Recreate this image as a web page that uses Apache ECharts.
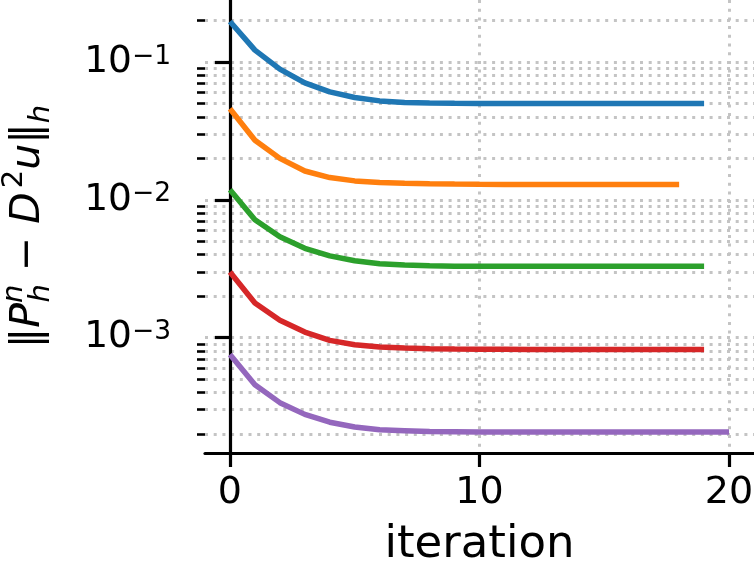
<!DOCTYPE html>
<html>
<head>
<meta charset="utf-8">
<script src="https://cdn.jsdelivr.net/npm/echarts@6/dist/echarts.min.js"></script>
<style>
  html, body { margin: 0; padding: 0; background: #fff; }
  #chart { width: 754px; height: 574px; }
</style>
</head>
<body>
<div id="chart"></div>
<script>
// data (error norm per iteration, log scale)
const iterations = [0, 1, 2, 3, 4, 5, 6, 7, 8, 9, 10, 11, 12, 13, 14, 15, 16, 17, 18, 19, 20];
const err_blue = [0.197, 0.1222, 0.0889, 0.0707, 0.0608, 0.0554, 0.0523, 0.0509, 0.0504, 0.0502,
  0.0501, 0.0501, 0.0501, 0.0501, 0.0501, 0.0501, 0.0501, 0.0501, 0.0501, 0.0501];
const err_orange = [0.0458, 0.0271, 0.0200, 0.0162, 0.01452, 0.01373, 0.01336, 0.01321, 0.0131, 0.01303,
  0.01298, 0.01295, 0.01293, 0.01292, 0.01292, 0.01292, 0.01292, 0.01292, 0.01292];
const err_green = [0.01184, 0.00717, 0.00539, 0.00445, 0.00392, 0.00361, 0.00344, 0.00336, 0.00332, 0.0033,
  0.00329, 0.00329, 0.00329, 0.00329, 0.00329, 0.00329, 0.00329, 0.00329, 0.00329, 0.00329];
const err_red = [0.00299, 0.00178, 0.001334, 0.001096, 0.000955, 0.000888, 0.000853, 0.000839, 0.00083, 0.000825,
  0.000823, 0.000822, 0.000821, 0.000821, 0.000821, 0.000821, 0.000821, 0.000821, 0.000821, 0.000821];
const err_purple = [0.000755, 0.000455, 0.000337, 0.000277, 0.000243, 0.000224, 0.000214, 0.000211, 0.000208, 0.000207,
  0.000206, 0.000206, 0.000206, 0.000206, 0.000206, 0.000206, 0.000206, 0.000206, 0.000206, 0.000206, 0.000206];

// tick values
const x_ticks = [0, 10, 20];
const y_major_ticks = [1e-3, 1e-2, 1e-1];
const y_minor_ticks = [
  2e-4, 3e-4, 4e-4, 5e-4, 6e-4, 7e-4, 8e-4, 9e-4,
  2e-3, 3e-3, 4e-3, 5e-3, 6e-3, 7e-3, 8e-3, 9e-3,
  2e-2, 3e-2, 4e-2, 5e-2, 6e-2, 7e-2, 8e-2, 9e-2,
  2e-1,
];

// matplotlib tab10 colors
const series_colors = ["#1f77b4", "#ff7f0e", "#2ca02c", "#d62728", "#9467bd"];
const all_series = [err_blue, err_orange, err_green, err_red, err_purple];

const font = "DejaVu Sans";
const y_min = -3.838;
const y_max = -0.549;

const chart = echarts.init(document.getElementById("chart"));

const grid_line = { color: "#c4c4c4", width: 3, type: [3, 5.7] };

chart.setOption({
  backgroundColor: "#ffffff",
  animation: false,
  grid: { left: 205, right: 0, top: 0, bottom: 121, outerBoundsMode: "none" },
  xAxis: {
    type: "value",
    min: -1,
    max: 21,
    name: "iteration",
    nameLocation: "middle",
    nameGap: 70,
    nameTextStyle: { fontFamily: font, fontSize: 45, color: "#000" },
    axisLine: { lineStyle: { color: "#000", width: 3.2 } },
    axisTick: { customValues: x_ticks, length: 14, lineStyle: { color: "#000", width: 3.2 } },
    axisLabel: {
      customValues: x_ticks,
      fontFamily: font,
      fontSize: 38,
      color: "#000",
      margin: 21,
    },
    splitLine: { show: true, lineStyle: grid_line },
  },
  yAxis: [
    {
      type: "value",
      min: y_min,
      max: y_max,
      position: "left",
      // ‖P_h^n − D²u‖_h, n stacked over h
      name: "{r|‖}{i|P}{sp|n}{sb|h}{r| − }{i|D\u200a}{sp2|2}{i|u}{r|‖}{sb2|h}",
      nameLocation: "middle",
      nameRotate: 90,
      nameGap: 149,
      nameTextStyle: {
        fontFamily: font,
        fontSize: 41,
        color: "#000",
        rich: {
          r: { fontFamily: font, fontSize: 41, lineHeight: 56, verticalAlign: "middle" },
          i: { fontFamily: font, fontSize: 41, fontStyle: "italic", lineHeight: 56, verticalAlign: "middle" },
          sp: { fontFamily: font, fontSize: 29, fontStyle: "italic", lineHeight: 29, verticalAlign: "top" },
          sb: { fontFamily: font, fontSize: 29, fontStyle: "italic", lineHeight: 29, verticalAlign: "bottom", padding: [0, 0, 0, -18] },
          sp2: { fontFamily: font, fontSize: 29, lineHeight: 29, verticalAlign: "top" },
          sb2: { fontFamily: font, fontSize: 29, fontStyle: "italic", lineHeight: 29, verticalAlign: "bottom" },
        },
      },
      axisLine: { show: true, lineStyle: { color: "#000", width: 3.2 } },
      axisTick: {
        customValues: y_major_ticks.map(Math.log10),
        length: 15,
        lineStyle: { color: "#000", width: 3.2 },
      },
      axisLabel: {
        customValues: y_major_ticks.map(Math.log10),
        margin: 34,
        formatter: (v) => "{b|10}{s|−" + Math.round(-v) + "}",
        rich: {
          b: { fontFamily: font, fontSize: 37.5, color: "#000", lineHeight: 38, verticalAlign: "bottom" },
          s: { fontFamily: font, fontSize: 26.5, color: "#000", lineHeight: 27, verticalAlign: "top" },
        },
      },
      splitLine: { show: true, lineStyle: grid_line },
    },
    {
      // minor ticks and minor grid of the log axis
      type: "value",
      min: y_min,
      max: y_max,
      position: "left",
      axisLine: { show: false },
      axisTick: {
        customValues: y_minor_ticks.map(Math.log10),
        length: 8,
        lineStyle: { color: "#000", width: 2.6 },
      },
      axisLabel: { show: false },
      splitLine: { show: true, lineStyle: grid_line },
    },
  ],
  series: all_series.map((vals, k) => ({
    type: "line",
    yAxisIndex: 0,
    showSymbol: false,
    symbol: "none",
    data: vals.map((v, i) => [iterations[i], Math.log10(v)]),
    lineStyle: { color: series_colors[k], width: 5.5 },
    z: 3,
  })),
});
</script>
</body>
</html>
